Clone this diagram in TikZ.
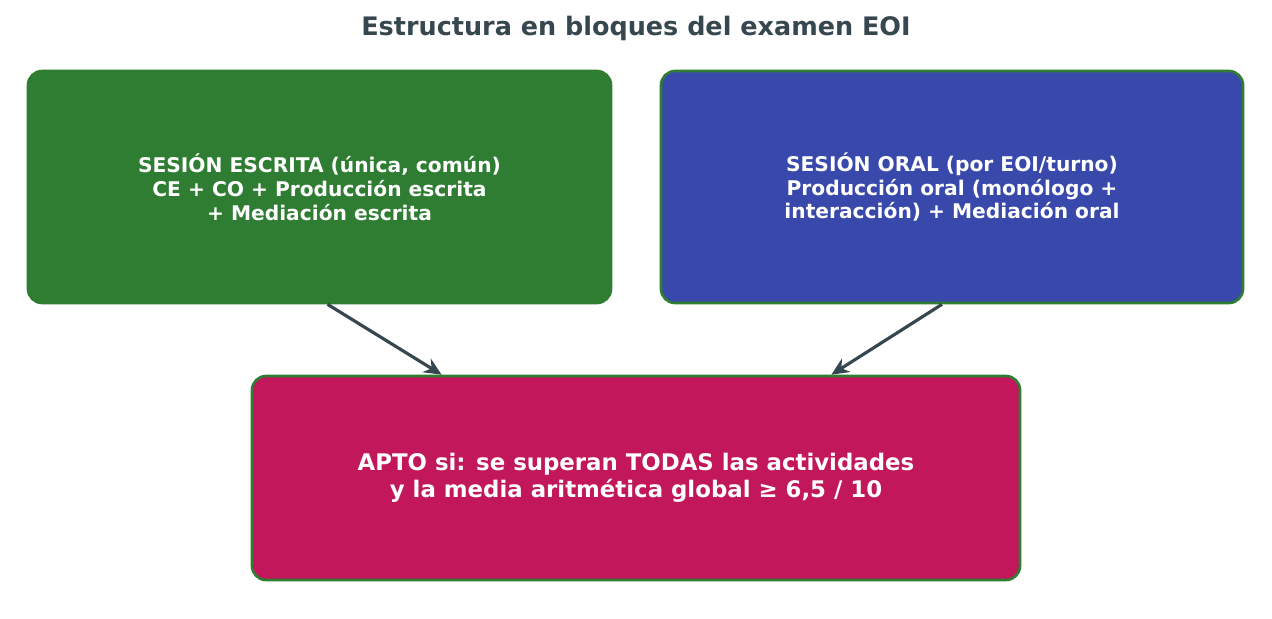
\documentclass[tikz,border=0pt]{standalone}
\usepackage{fontspec}
\setmainfont{DejaVu Sans}
\usepackage{tikz}
\usetikzlibrary{positioning, arrows.meta}
\definecolor{slate}{HTML}{37474F}
\definecolor{boxgreen}{HTML}{2E7D32}
\definecolor{boxblue}{HTML}{3949AB}
\definecolor{boxred}{HTML}{C2185B}

\begin{document}
\begin{tikzpicture}[x=0.02cm, y=-0.02cm,
  block/.style={rectangle, rounded corners=8pt, draw=boxgreen, line width=1.5pt, text=white, align=center, font=\bfseries\fontsize{11.5}{13.6}\selectfont, inner sep=0pt},
  link/.style={draw=slate, line width=1.8pt, -{Stealth[length=10pt, width=9pt]}}]
\useasboundingbox (0,0) rectangle (1272,619);

% --- title ---
\node[text=slate, font=\bfseries\fontsize{14.5}{17}\selectfont] (title) at (636,28) {Estructura en bloques del examen EOI};

% --- the two sessions ---
\node[block, fill=boxgreen, minimum width=583*0.02cm, minimum height=232*0.02cm] (escrita) at (319.5,187) {SESIÓN ESCRITA (única, común)\\CE + CO + Producción escrita\\+ Mediación escrita};
\node[block, fill=boxblue, minimum width=582*0.02cm, minimum height=232*0.02cm] (oral) at (952,187) {SESIÓN ORAL (por EOI/turno)\\Producción oral (monólogo +\\interacción) + Mediación oral};

% --- result ---
\node[block, fill=boxred, minimum width=768*0.02cm, minimum height=204*0.02cm, font=\bfseries\fontsize{13}{15.3}\selectfont] (apto) at (636,478) {APTO si: se superan TODAS las actividades\\y la media aritmética global ≥ 6,5 / 10};

\draw[link] ([xshift=0.16cm]escrita.south) -- ([xshift=3.82cm]apto.north west);
\draw[link] ([xshift=-0.2cm]oral.south) -- ([xshift=-3.8cm]apto.north east);
\end{tikzpicture}
\end{document}
